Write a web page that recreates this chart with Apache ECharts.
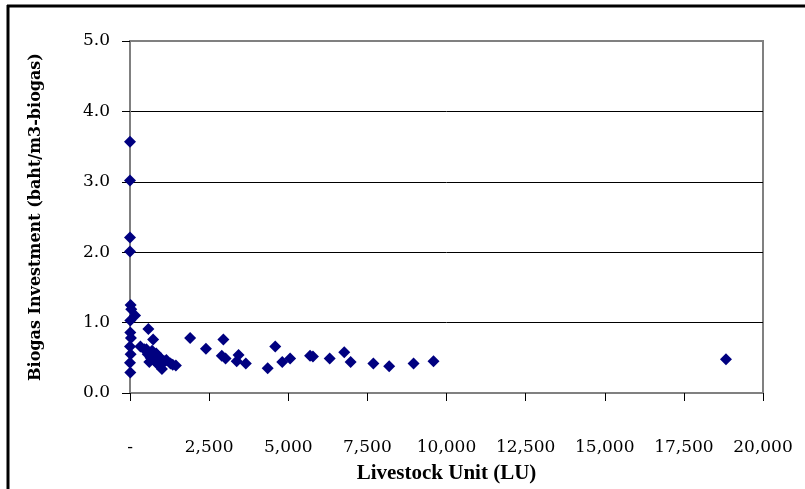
<!DOCTYPE html>
<html>
<head>
<meta charset="utf-8">
<script src="https://cdn.jsdelivr.net/npm/echarts@6/dist/echarts.min.js"></script>
<style>
html,body{margin:0;padding:0;background:#fff;}
#chart{width:805px;height:489px;}
</style>
</head>
<body>
<div id="chart"></div>
<script>
// Livestock Unit (LU) values
var livestockUnits = [
  0, 0, 0, 0, 20, 40, 160, 10, 10, 30, 0, 20, 0, 10,
  580, 730, 330, 520, 700, 560, 650, 610, 760, 830, 900, 980, 1010, 1100, 1150, 1280, 1450, 1350, 850, 450,
  1900, 2400, 2950, 2900, 3020, 3430, 3370, 3660, 4350, 4590, 4810, 5060, 5690, 5780, 6310, 6770, 6970, 7690, 8190, 8960, 9590, 18830
];
// Biogas investment (baht/m3-biogas)
var biogasInvestment = [
  3.57, 3.02, 2.21, 2.01, 1.25, 1.19, 1.10, 1.03, 0.86, 0.78, 0.66, 0.55, 0.43, 0.29,
  0.91, 0.76, 0.66, 0.62, 0.60, 0.55, 0.50, 0.44, 0.47, 0.56, 0.52, 0.49, 0.34, 0.45, 0.47, 0.42, 0.39, 0.40, 0.42, 0.62,
  0.78, 0.63, 0.76, 0.53, 0.49, 0.54, 0.45, 0.42, 0.35, 0.66, 0.44, 0.49, 0.53, 0.52, 0.49, 0.58, 0.44, 0.42, 0.38, 0.42, 0.45, 0.48
];
var xTicks = [0, 2500, 5000, 7500, 10000, 12500, 15000, 17500, 20000];
var yTicks = [0, 1, 2, 3, 4, 5];
var xTitle = 'Livestock Unit (LU)';
var yTitle = 'Biogas Investment (baht/m3-biogas)';

var points = livestockUnits.map(function (x, i) { return [x, biogasInvestment[i]]; });

var chart = echarts.init(document.getElementById('chart'), null, {renderer: 'canvas'});
chart.setOption({
  animation: false,
  backgroundColor: '#fff',
  grid: {left: 130, right: 42, top: 41, bottom: 95, show: true, borderColor: '#808080', borderWidth: 2, backgroundColor: 'transparent'},
  xAxis: {
    type: 'value',
    min: xTicks[0], max: xTicks[xTicks.length - 1], interval: 2500,
    name: xTitle, nameLocation: 'middle', nameGap: 70,
    nameTextStyle: {fontFamily: 'Liberation Serif', fontWeight: 'bold', fontSize: 21, color: '#000'},
    axisLine: {show: true, lineStyle: {color: '#808080', width: 2}},
    axisTick: {show: true, inside: false, length: 8, lineStyle: {color: '#000', width: 1}},
    axisLabel: {
      margin: 46, color: '#000', fontFamily: 'DejaVu Serif', fontSize: 17,
      formatter: function (v) { return v === 0 ? '-' : v.toLocaleString('en-US'); }
    },
    splitLine: {show: false}
  },
  yAxis: {
    type: 'value',
    min: yTicks[0], max: yTicks[yTicks.length - 1], interval: 1,
    name: yTitle, nameLocation: 'middle', nameGap: 86, nameRotate: 90,
    nameTextStyle: {fontFamily: 'DejaVu Serif', fontWeight: 'bold', fontSize: 16, color: '#000'},
    axisLine: {show: true, lineStyle: {color: '#808080', width: 2}},
    axisTick: {show: true, inside: false, length: 8, lineStyle: {color: '#000', width: 1}},
    axisLabel: {
      margin: 20, color: '#000', fontFamily: 'DejaVu Serif', fontSize: 17,
      formatter: function (v) { return v.toFixed(1); }
    },
    splitLine: {show: true, lineStyle: {color: ['#808080', '#000', '#000', '#000', '#000', '#808080'], width: 1}}
  },
  series: [{
    type: 'scatter',
    data: points,
    symbol: 'diamond',
    symbolSize: [12, 12],
    itemStyle: {color: '#000080', opacity: 1},
    z: 5
  }],
  graphic: [
    {type: 'line', shape: {x1: 7, y1: 6, x2: 805, y2: 6}, style: {stroke: '#000', lineWidth: 3}},
    {type: 'line', shape: {x1: 8, y1: 5, x2: 8, y2: 489}, style: {stroke: '#000', lineWidth: 3}}
  ]
});
</script>
</body>
</html>
